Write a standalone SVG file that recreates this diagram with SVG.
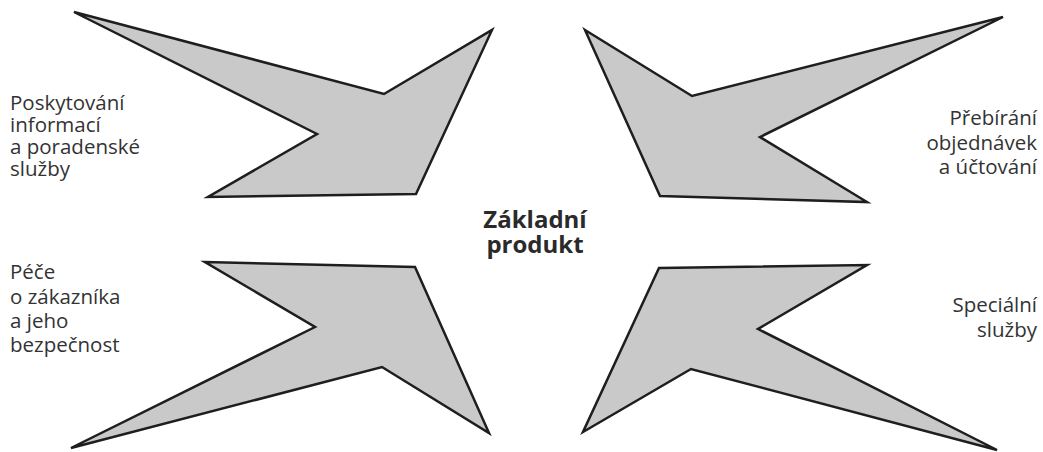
<svg xmlns="http://www.w3.org/2000/svg" width="1043" height="452" viewBox="0 0 1043 452">
<style>
.arrow{fill:#c9c9c9;stroke:#1e1e1e;stroke-width:2.5;stroke-linejoin:miter}
.lbl{font-family:"Open Sans","Liberation Sans",sans-serif;font-size:20.5px;fill:#333}
.r{text-anchor:end}
.center{font-family:"Open Sans","Liberation Sans",sans-serif;font-size:24px;font-weight:bold;fill:#2a2a2a;text-anchor:middle}
</style>
<rect width="1043" height="452" fill="#fff"/>
<g id="arrow-top-left"><polygon class="arrow" points="74,12 384,94 492,30 416,194 208,197 317,134"/></g>
<g id="arrow-top-right"><polygon class="arrow" points="585,30 692,96 1003,17 760,137 867,202 660,196"/></g>
<g id="arrow-bottom-left"><polygon class="arrow" points="205,262 415,267 489,433 382,367 71,448 315,327"/></g>
<g id="arrow-bottom-right"><polygon class="arrow" points="659,268 867,265 758,329 997,450 691,369 583,432"/></g>
<g id="label-top-left"><text class="lbl"><tspan x="10" y="110">Poskytování</tspan><tspan x="10" y="132">informací</tspan><tspan x="10" y="154">a poradenské</tspan><tspan x="10" y="176">služby</tspan></text></g>
<g id="label-bottom-left"><text class="lbl"><tspan x="10" y="279">Péče</tspan><tspan x="10" y="304">o zákazníka</tspan><tspan x="10" y="328">a jeho</tspan><tspan x="10" y="352">bezpečnost</tspan></text></g>
<g id="label-top-right"><text class="lbl r"><tspan x="1037" y="125">Přebírání</tspan><tspan x="1037" y="150">objednávek</tspan><tspan x="1037" y="174">a účtování</tspan></text></g>
<g id="label-bottom-right"><text class="lbl r"><tspan x="1037" y="312">Speciální</tspan><tspan x="1037" y="337">služby</tspan></text></g>
<g id="center"><text class="center"><tspan x="535" y="228">Základní</tspan><tspan x="535" y="253">produkt</tspan></text></g>
<g id="connectors"></g>
</svg>
